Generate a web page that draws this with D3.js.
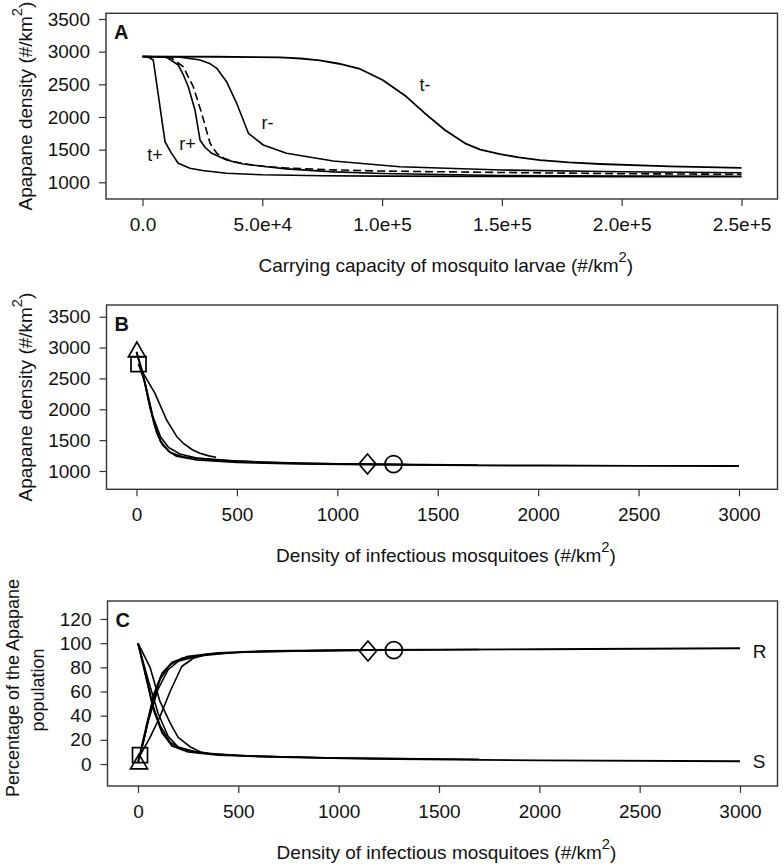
<!DOCTYPE html>
<html><head><meta charset="utf-8">
<script src="https://cdn.jsdelivr.net/npm/d3@7"></script>
<style>body{margin:0;background:#fff} svg{display:block}</style>
</head><body>
<svg id="chart" width="784" height="867"></svg>
<script>
// ---------- DATA ----------
// Panel A : Apapane density vs carrying capacity of mosquito larvae
const xTicksA = [0, 50000, 100000, 150000, 200000, 250000];
const xTickLabelsA = ["0.0", "5.0e+4", "1.0e+5", "1.5e+5", "2.0e+5", "2.5e+5"];
const yTicksAB = [1000, 1500, 2000, 2500, 3000, 3500];

const tPlusA = [[0,2925],[2500,2915],[4500,2872],[6500,2360],[8000,1975],[9400,1621],[12000,1450],[14900,1291],[19800,1214],[25000,1180],[35100,1138],[50000,1115],[75000,1100],[100000,1094],[150000,1090],[200000,1087],[250000,1085]];
const rPlusA = [[0,2925],[5000,2922],[10100,2913],[14900,2796],[17000,2650],[19100,2463],[21900,2107],[24000,1648],[26000,1540],[28900,1444],[35100,1341],[42000,1280],[51800,1239],[60000,1205],[80000,1160],[100000,1135],[150000,1105],[200000,1096],[250000,1092]];
const baseA = [[0,2925],[8000,2922],[12200,2898],[17000,2770],[21200,2463],[24700,2056],[28200,1597],[31000,1444],[34000,1370],[37900,1315],[45000,1270],[51800,1240],[60000,1220],[80000,1190],[100000,1172],[150000,1150],[200000,1132],[250000,1122]];
const rMinusA = [[0,2925],[15000,2920],[24000,2872],[28000,2820],[31000,2745],[35100,2540],[39300,2209],[44200,1750],[50400,1571],[60100,1444],[79600,1326],[107400,1239],[150000,1188],[200000,1162],[250000,1147]];
const tMinusA = [[0,2925],[30000,2922],[57400,2912],[66000,2895],[74000,2865],[82000,2815],[90800,2735],[100200,2566],[109500,2330],[117900,2056],[126200,1800],[134600,1597],[141000,1500],[149200,1433],[157000,1380],[165900,1341],[178000,1305],[190900,1280],[220000,1245],[250000,1222]];
const curveLabelsA = ["t+", "r+", "r-", "t-"];
const curveLabelPosA = [[5220,1418],[18780,1586],[52170,1912],[117900,2489]];

// Panel B : Apapane density vs density of infectious mosquitoes
const xTicksBC = [0, 500, 1000, 1500, 2000, 2500, 3000];
const curve1B = [[0,2930],[30,2600],[60,2150],[90,1750],[120,1480],[160,1320],[200,1240],[300,1180],[500,1140],[800,1115],[1150,1105],[1500,1095],[2000,1088],[2500,1083],[3000,1080]];
const curve2B = [[0,2930],[40,2450],[70,1990],[100,1620],[130,1420],[170,1300],[230,1230],[400,1175],[650,1140],[1000,1115],[1280,1108],[1700,1095]];
const curve3B = [[10,2733],[45,2400],[80,1900],[120,1550],[160,1380],[220,1270],[300,1210],[500,1160],[800,1125],[1150,1110],[1350,1105]];
const curve4B = [[10,2733],[34,2582],[92,2258],[150,1826],[200,1560],[233,1449],[280,1340],[316,1287],[360,1245],[396,1222]];
const markersB = [["triangle",2,2930],["square",10,2733],["diamond",1150,1113],["circle",1280,1113]];

// Panel C : percentage of population (R = recovered, S = susceptible)
const yTicksC = [0, 20, 40, 60, 80, 100, 120];
const r1C = [[0,1],[40,30],[80,58],[120,75],[170,84],[250,89],[400,92],[650,93.5],[1150,94.3],[2000,95],[3000,95.8]];
const r2C = [[0,1],[30,20],[70,50],[110,70],[160,82],[220,87.5],[350,91],[600,93],[1000,94],[1280,94.3],[1700,94.8]];
const r3C = [[10,7],[50,35],[100,62],[150,78],[200,85],[300,89.5],[500,92.5],[900,93.8],[1350,94.5]];
const r4C = [[10,7],[60,22],[109,39],[160,60],[218,80.7],[275,87.5],[340,90.5],[396,91.5]];
const s1C = [[0,100],[40,72],[80,44],[120,26],[170,15],[250,10],[400,7.5],[650,6],[1150,4.2],[2000,3],[3000,2.3]];
const s2C = [[0,100],[30,80],[70,50],[110,32],[160,18],[220,12],[350,8.5],[600,6.3],[1000,5],[1280,4.5],[1700,3.8]];
const s3C = [[0,100],[50,70],[100,42],[150,23],[200,14],[300,9.5],[500,7],[900,5.2],[1350,4.3]];
const s4C = [[0,100],[60,80],[109,52],[160,34],[200,22],[259,14.3],[309,10.2],[360,8.5],[396,7.8]];
const markersC = [["triangle",5,0],["square",10,7.4],["diamond",1146,93.5],["circle",1275,94.3]];
const endLabelsC = ["R", "S"];
const endLabelPosC = [[3063,93],[3063,2]];

// ---------- DRAWING ----------
const svg = d3.select("#chart");
const FONT = "'Liberation Sans', Arial, Helvetica, sans-serif";
const INK = "#111";

const diamondType = { draw(ctx, size) { const w = 8.5, h = 10; ctx.moveTo(0,-h); ctx.lineTo(w,0); ctx.lineTo(0,h); ctx.lineTo(-w,0); ctx.closePath(); } };
const symbolTypes = {
  triangle: [d3.symbolTriangle, 125],
  square: [d3.symbolSquare, 225],
  diamond: [diamondType, 1],
  circle: [d3.symbolCircle, 227]
};

function addTitle(g, txt, sup, close, x, y, rotate, size) {
  const t = g.append("text")
    .attr("transform", `translate(${x},${y})` + (rotate ? " rotate(-90)" : ""))
    .attr("text-anchor", "middle")
    .attr("font-family", FONT).attr("font-size", size).attr("fill", INK);
  t.append("tspan").text(txt);
  if (sup) {
    t.append("tspan").attr("dy", -10).attr("font-size", size * 0.78).text(sup);
    t.append("tspan").attr("dy", 10).text(close);
  }
  return t;
}

function panel(cfg) {
  const g = svg.append("g");
  const x = d3.scaleLinear().domain(cfg.xDom).range(cfg.xRange);
  const y = d3.scaleLinear().domain(cfg.yDom).range(cfg.yRange);
  const b = cfg.box;

  const xa = d3.axisBottom(x).tickValues(cfg.xTicks)
    .tickFormat((d, i) => cfg.xTickLabels ? cfg.xTickLabels[i] : d)
    .tickSize(7).tickPadding(11.5).tickSizeOuter(0);
  const ya = d3.axisLeft(y).tickValues(cfg.yTicks)
    .tickFormat(d => d).tickSize(7).tickPadding(9).tickSizeOuter(0);

  const gx = g.append("g").attr("transform", `translate(0,${b.b})`).call(xa);
  const gy = g.append("g").attr("transform", `translate(${b.l},0)`).call(ya);
  [gx, gy].forEach(ax => {
    ax.select(".domain").remove();
    ax.selectAll("line").attr("stroke", "#333").attr("stroke-width", 1.2);
    ax.selectAll("text").attr("font-family", FONT).attr("font-size", 19).attr("fill", INK);
  });

  g.append("rect").attr("x", b.l).attr("y", b.t)
    .attr("width", b.r - b.l).attr("height", b.b - b.t)
    .attr("fill", "none").attr("stroke", "#333").attr("stroke-width", 1.4);

  const line = d3.line().x(d => x(d[0])).y(d => y(d[1])).curve(d3.curveLinear);
  cfg.curves.forEach(c => {
    g.append("path").datum(c.data).attr("d", line)
      .attr("fill", "none").attr("stroke", "#000")
      .attr("stroke-width", c.w || 1.6)
      .attr("stroke-dasharray", c.dash || null)
      .attr("stroke-linejoin", "round");
  });

  (cfg.markers || []).forEach(m => {
    const [type, size] = symbolTypes[m[0]];
    g.append("path").attr("d", d3.symbol().type(type).size(size)())
      .attr("transform", `translate(${x(m[1])},${y(m[2])})`)
      .attr("fill", "none").attr("stroke", "#000").attr("stroke-width", 1.7);
  });

  (cfg.labels || []).forEach(l => {
    g.append("text").attr("x", x(l.pos[0])).attr("y", y(l.pos[1]))
      .attr("dy", "0.35em").attr("text-anchor", l.anchor || "middle")
      .attr("font-family", FONT).attr("font-size", l.size || 18).attr("fill", INK).text(l.text);
  });

  g.append("text").attr("x", b.l + 8).attr("y", b.t + 26)
    .attr("font-family", FONT).attr("font-size", 20).attr("font-weight", "bold")
    .attr("fill", INK).text(cfg.letter);

  addTitle(g, cfg.xTitle[0], cfg.xTitle[1], cfg.xTitle[2], (b.l + b.r) / 2 + 4, b.b + 73, false, 19);
  cfg.yTitle.forEach(yt => {
    addTitle(g, yt.parts[0], yt.parts[1], yt.parts[2], yt.x, yt.cy, true, yt.size || 19);
  });
}

panel({
  letter: "A",
  box: {l: 106, r: 777.5, t: 13.3, b: 199},
  xDom: [0, 250000], xRange: [142.5, 741.5],
  yDom: [1000, 3500], yRange: [182.3, 19],
  xTicks: xTicksA, xTickLabels: xTickLabelsA, yTicks: yTicksAB,
  curves: [
    {data: tPlusA}, {data: rPlusA}, {data: baseA, dash: "8,4"},
    {data: rMinusA}, {data: tMinusA, w: 1.8}
  ],
  labels: curveLabelsA.map((t, i) => ({text: t, pos: curveLabelPosA[i]})),
  xTitle: ["Carrying capacity of mosquito larvae (#/km", "2", ")"],
  yTitle: [{parts: ["Apapane density (#/km", "2", ")"], x: 32, cy: 106}]
});

panel({
  letter: "B",
  box: {l: 106.5, r: 777.5, t: 305, b: 489.3},
  xDom: [0, 3000], xRange: [136.5, 739],
  yDom: [1000, 3500], yRange: [471, 316.7],
  xTicks: xTicksBC, yTicks: yTicksAB,
  curves: [{data: curve1B, w: 1.9}, {data: curve2B}, {data: curve3B}, {data: curve4B}],
  markers: markersB,
  xTitle: ["Density of infectious mosquitoes (#/km", "2", ")"],
  yTitle: [{parts: ["Apapane density (#/km", "2", ")"], x: 32, cy: 397}]
});

panel({
  letter: "C",
  box: {l: 107.5, r: 777.5, t: 601, b: 786},
  xDom: [0, 3000], xRange: [138, 740],
  yDom: [0, 120], yRange: [764, 619],
  xTicks: xTicksBC, yTicks: yTicksC,
  curves: [
    {data: r1C, w: 1.9}, {data: r2C}, {data: r3C}, {data: r4C},
    {data: s1C, w: 1.9}, {data: s2C}, {data: s3C}, {data: s4C}
  ],
  markers: markersC,
  labels: endLabelsC.map((t, i) => ({text: t, pos: endLabelPosC[i], anchor: "start", size: 19})),
  xTitle: ["Density of infectious mosquitoes (#/km", "2", ")"],
  yTitle: [
    {parts: ["Percentage of the Apapane"], x: 18.5, cy: 688, size: 18},
    {parts: ["population"], x: 44, cy: 690, size: 18}
  ]
});
</script>
</body></html>
